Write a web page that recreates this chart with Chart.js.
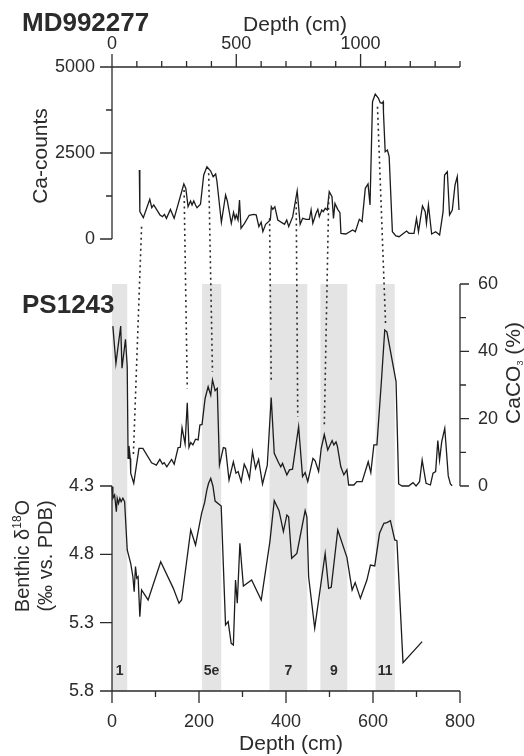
<!DOCTYPE html>
<html>
<head>
<meta charset="utf-8">
<script src="https://cdn.jsdelivr.net/npm/chart.js@4.4.1/dist/chart.umd.min.js"></script>
<style>
  html, body { margin: 0; padding: 0; background: #fff; }
  #wrap { position: relative; width: 524px; height: 756px; }
</style>
</head>
<body>
<div id="wrap"><canvas id="chart" width="524" height="756"></canvas></div>
<script>
/////////////////////
//    Data         //
/////////////////////
// MD992277 Ca-counts vs depth (cm)
const mdDepth = [110, 112, 126, 152, 160, 168, 193, 203, 211, 219, 235, 250, 289, 297, 306, 316, 322, 329, 336, 342,
  356, 369, 382, 397, 407, 417, 422, 440, 457, 464, 480, 489, 495, 500, 507, 513, 519, 533, 552, 570,
  580, 591, 600, 607, 618, 637, 641, 647, 655, 667, 694, 703, 711, 727, 745, 757, 767, 781, 794, 801,
  808, 821, 828, 834, 844, 850, 858, 866, 874, 885, 891, 897, 908, 917, 921, 941, 968, 979, 995, 1006,
  1019, 1030, 1038, 1048, 1059, 1072, 1079, 1086, 1091, 1092, 1099, 1108, 1115, 1128, 1142, 1155, 1185, 1195, 1215, 1225,
  1233, 1249, 1260, 1265, 1273, 1286, 1302, 1318, 1332, 1338, 1349, 1358, 1369, 1380, 1389, 1396];
const mdCa = [2006, 794, 620, 1153, 910, 990, 700, 650, 716, 600, 860, 600, 1600, 1470, 940, 1105, 990, 1105, 990, 910,
  1010, 1860, 2100, 1977, 1810, 1890, 1686, 485, 1280, 1105, 456, 776, 581, 700, 552, 1134, 310, 456, 690, 716,
  700, 360, 485, 213, 427, 552, 940, 863, 940, 552, 427, 552, 360, 650, 1395, 427, 600, 572, 572, 843,
  456, 746, 863, 650, 843, 795, 892, 843, 1376, 1231, 600, 1036, 863, 766, 165, 145, 262, 213, 572, 504,
  1473, 1600, 990, 3992, 4215, 4090, 3963, 3944, 3992, 3701, 2538, 2587, 2393, 213, 87, 67, 233, 165, 165, 601,
  213, 960, 795, 456, 990, 145, 213, 116, 795, 1860, 1957, 700, 843, 1570, 1811, 843];

// PS1243 CaCO3 (%) vs depth (cm)
const psDepth = [2, 9, 20, 23, 31, 35, 37, 39, 42, 43, 50, 62, 71, 91, 102, 110, 116, 120, 126, 137,
  143, 152, 157, 161, 168, 173, 177, 181, 186, 192, 198, 202, 207, 214, 221, 227, 231, 237, 242, 247,
  256, 261, 269, 279, 285, 290, 297, 304, 310, 316, 323, 330, 337, 346, 357, 366, 373, 383, 388, 392,
  402, 408, 415, 429, 438, 444, 450, 462, 467, 475, 481, 488, 496, 506, 510, 515, 518, 526, 533, 540,
  544, 556, 563, 575, 589, 595, 602, 609, 619, 627, 632, 653, 659, 667, 682, 692, 699, 707, 713, 722,
  732, 738, 744, 749, 753, 758, 765, 773, 778, 782];
const psCaCO3 = [47.5, 36.4, 47.5, 35, 43.6, 35.4, 8.2, 11.9, 8.2, 3.8, 0.8, 11.2, 11.2, 6.9, 6.2, 7.9, 6.5, 6.9, 5.7, 7.9,
  6.5, 11.4, 11.5, 17.3, 12.5, 24.7, 11.5, 12.9, 12.2, 13.9, 13.7, 18.1, 18.3, 26, 29.5, 27, 31.5, 28.3, 29, 6.2,
  11.4, 11.2, 1.8, 7.2, 3.8, 4.3, 1.3, 6.5, 4.8, 2.2, 10.2, 5.2, 7.9, 0.6, 6.2, 26.3, 9.7, 6.9, 5.7, 6.7,
  3.3, 4.8, 5, 17.6, 2.8, 4, 1.3, 8.2, 7.5, 4.3, 11.2, 15.3, 10.7, 13.5, 12.2, 13.1, 11.9, 5.7, 3.3, 4.8,
  0.3, 0.3, 1.3, 1.3, 7.2, 4, 12.2, 12.2, 30.5, 46.3, 45.8, 31, 0.6, 0, 0, 1, 0, 1.3, 7.7, 0.8,
  0.3, 3.8, 4.3, 13.5, 7.7, 13.2, 17.1, 3, 0.6, 0.1];

// PS1243 benthic d18O (permil vs. PDB) vs depth (cm)
const d18ODepth = [0, 2, 6, 10, 12, 15, 18, 21, 25, 29, 35, 43, 48, 51, 54, 57, 60, 64, 68, 83,
  112, 141, 154, 160, 181, 192, 206, 213, 218, 222, 227, 232, 237, 251, 261, 267, 274, 279, 284, 288,
  294, 302, 321, 343, 363, 373, 384, 394, 402, 406, 413, 425, 444, 448, 452, 466, 490, 498, 504, 519,
  540, 552, 559, 571, 586, 594, 604, 615, 625, 632, 640, 650, 655, 669, 713];
const d18O = [4.305, 4.39, 4.366, 4.488, 4.39, 4.427, 4.39, 4.415, 4.39, 4.415, 4.768, 4.866, 4.964, 5.073, 4.89, 4.975, 4.964, 5.256, 5.061, 5.134,
  4.854, 5.049, 5.158, 5.134, 4.622, 4.732, 4.5, 4.42, 4.33, 4.28, 4.245, 4.30, 4.41, 4.446, 5.317, 5.293, 5.451, 5.463, 4.988, 5.158,
  4.719, 5.032, 4.988, 5.134, 4.707, 4.407, 4.48, 4.634, 4.512, 4.525, 4.829, 4.793, 4.48, 4.525, 4.964, 5.341, 4.793, 5.049, 5.041, 4.622,
  4.822, 5.061, 5.007, 5.122, 4.988, 4.878, 4.885, 4.646, 4.573, 4.568, 4.554, 4.695, 4.7, 5.593, 5.439];

// Tie points (dotted lines) MD992277 -> PS1243
const tieMdDepth = [119, 290, 389, 634, 741, 872, 1068];
const tieMdCa = [358, 1424, 1910, 602, 1084, 1230, 3846];
const tiePsDepth = [49, 173, 231, 366, 427, 488, 629];
const tiePsCaCO3 = [8.7, 29.0, 33.9, 30.5, 20.6, 17.8, 47.8];

// Interglacial (MIS) bands
const bandStart = [0, 207, 362, 479, 606];
const bandEnd = [35, 251, 449, 541, 650];
const bandLabels = ['1', '5e', '7', '9', '11'];

// Tick labels
const mdDepthTicks = [0, 500, 1000];
const caTicks = [0, 2500, 5000];
const caco3Ticks = [0, 20, 40, 60];
const d18OTicks = [4.3, 4.8, 5.3, 5.8];
const psDepthTicks = [0, 200, 400, 600, 800];


/////////////////////
//    Layout       //
/////////////////////
const FONT = "'Liberation Sans', Arial, Helvetica, sans-serif";
const INK = '#2b2b2b';
const AREA = { left: 112, right: 460, top: 67, bottom: 691 };   // chart area in px
const SPLIT = 486;    // where the left Ca axis box ends and the d18O box starts
const W = 524, H = 756;

// find the scale range that puts vTop at pxTop and vBot at pxBot
// inside a box running from boxTop to boxBottom
function extent(vTop, vBot, pxTop, pxBot, boxTop, boxBottom) {
  const perPx = (vBot - vTop) / (pxBot - pxTop);
  return [vTop - perPx * (pxTop - boxTop), vBot + perPx * (boxBottom - pxBot)];
}
const caRange = extent(5000, 0, 67, 239, AREA.top, SPLIT);
const caco3Range = extent(60, 0, 284, 486, AREA.top, AREA.bottom);

const fixedTicks = (values) => (scale) => {
  scale.ticks = values.map(v => ({ value: v }));
};
const tickFont = { family: FONT, size: 18 };


////////////////////////////
//    Drawing helpers     //
////////////////////////////
function richText(ctx, parts, x, y, angle) {
  // parts: [text, sizePx, baselineShift]
  ctx.save();
  ctx.translate(x, y);
  ctx.rotate(angle);
  let total = 0;
  for (const [t, size] of parts) {
    ctx.font = `${size}px ${FONT}`;
    total += ctx.measureText(t).width;
  }
  let cx = -total / 2;
  ctx.textAlign = 'left';
  ctx.textBaseline = 'alphabetic';
  for (const [t, size, shift] of parts) {
    ctx.font = `${size}px ${FONT}`;
    ctx.fillText(t, cx, shift);
    cx += ctx.measureText(t).width;
  }
  ctx.restore();
}

const decorations = {
  id: 'decorations',
  beforeDatasetsDraw(chart) {
    const { ctx, scales: { xBot, yC, yO } } = chart;
    ctx.save();
    // grey interglacial bands
    ctx.fillStyle = '#e4e4e4';
    const top = yC.getPixelForValue(60);
    const bottom = yO.getPixelForValue(5.8);
    for (let i = 0; i < bandStart.length; i++) {
      const x0 = xBot.getPixelForValue(bandStart[i]);
      const x1 = xBot.getPixelForValue(bandEnd[i]);
      ctx.fillRect(x0, top, x1 - x0, bottom - top);
    }
    // band labels
    ctx.fillStyle = INK;
    ctx.font = `bold 14px ${FONT}`;
    ctx.textAlign = 'center';
    ctx.textBaseline = 'middle';
    for (let i = 0; i < bandStart.length; i++) {
      const x = xBot.getPixelForValue((bandStart[i] + bandEnd[i]) / 2);
      ctx.fillText(bandLabels[i], x, yO.getPixelForValue(5.655));
    }
    ctx.restore();
  },
  afterDatasetsDraw(chart) {
    const { ctx, scales: { xTop, xBot, yCa, yC, yO } } = chart;
    ctx.save();

    // dotted tie lines
    ctx.strokeStyle = INK;
    ctx.lineWidth = 1.6;
    ctx.setLineDash([2, 3.5]);
    ctx.beginPath();
    for (let i = 0; i < tieMdDepth.length; i++) {
      ctx.moveTo(xTop.getPixelForValue(tieMdDepth[i]), yCa.getPixelForValue(tieMdCa[i]));
      ctx.lineTo(xBot.getPixelForValue(tiePsDepth[i]), yC.getPixelForValue(tiePsCaCO3[i]));
    }
    ctx.stroke();
    ctx.setLineDash([]);

    // axis lines and tick marks
    ctx.lineWidth = 1.3;
    ctx.beginPath();
    // MD992277 depth axis (top, ticks outward = up)
    const yTopAxis = yCa.getPixelForValue(5000);
    ctx.moveTo(xTop.getPixelForValue(0), yTopAxis);
    ctx.lineTo(xTop.getPixelForValue(1400), yTopAxis);
    for (let d = 0; d <= 1400; d += 100) {
      const x = xTop.getPixelForValue(d);
      ctx.moveTo(x, yTopAxis);
      ctx.lineTo(x, yTopAxis - (mdDepthTicks.includes(d) ? 13 : 6));
    }
    // Ca-counts axis (left)
    const xCa = xTop.getPixelForValue(0);
    ctx.moveTo(xCa, yCa.getPixelForValue(0));
    ctx.lineTo(xCa, yCa.getPixelForValue(5000));
    for (let v = 0; v <= 5000; v += 1250) {
      const y = yCa.getPixelForValue(v);
      ctx.moveTo(xCa, y);
      ctx.lineTo(xCa - (caTicks.includes(v) ? 12 : 6), y);
    }
    // CaCO3 axis (right)
    const xC = AREA.right;
    ctx.moveTo(xC, yC.getPixelForValue(0));
    ctx.lineTo(xC, yC.getPixelForValue(60));
    for (let v = 0; v <= 60; v += 10) {
      const y = yC.getPixelForValue(v);
      ctx.moveTo(xC, y);
      ctx.lineTo(xC + (caco3Ticks.includes(v) ? 9 : 6), y);
    }
    // d18O axis (left)
    const xO = xBot.getPixelForValue(0);
    ctx.moveTo(xO, yO.getPixelForValue(4.3));
    ctx.lineTo(xO, yO.getPixelForValue(5.8));
    for (const v of d18OTicks) {
      const y = yO.getPixelForValue(v);
      ctx.moveTo(xO, y);
      ctx.lineTo(xO - 12, y);
    }
    // PS1243 depth axis (bottom)
    const yBotAxis = yO.getPixelForValue(5.8);
    ctx.moveTo(xBot.getPixelForValue(0), yBotAxis);
    ctx.lineTo(xBot.getPixelForValue(800), yBotAxis);
    for (let d = 0; d <= 800; d += 100) {
      const x = xBot.getPixelForValue(d);
      ctx.moveTo(x, yBotAxis);
      ctx.lineTo(x, yBotAxis + (psDepthTicks.includes(d) ? 12 : 6));
    }
    ctx.stroke();

    // titles
    ctx.fillStyle = INK;
    ctx.font = `bold 26px ${FONT}`;
    ctx.textAlign = 'left';
    ctx.textBaseline = 'alphabetic';
    ctx.fillText('MD992277', 22, 31);
    ctx.fillText('PS1243', 22, 313);

    richText(ctx, [['Depth (cm)', 21, 0]], 295, 31, 0);
    richText(ctx, [['Depth (cm)', 21, 0]], 291, 750, 0);
    richText(ctx, [['Ca-counts', 21, 0]], 47, 156, -Math.PI / 2);
    richText(ctx, [['Benthic δ', 20, 0], ['18', 12, -8], ['O', 20, 0]], 29, 556, -Math.PI / 2);
    richText(ctx, [['(‰ vs. PDB)', 20, 0]], 52, 556, -Math.PI / 2);
    richText(ctx, [['CaCO', 21, 0], ['3', 9, 3], [' (%)', 21, 0]], 520, 373, -Math.PI / 2);

    ctx.restore();
  }
};


///////////////////////
//    Main Script    //
///////////////////////
const lineStyle = {
  borderColor: '#1c1c1c',
  borderWidth: 1.3,
  pointRadius: 0,
  tension: 0,
  fill: false,
  clip: false     // curves may run a little past their own axis range
};

const data = {
  datasets: [
    {
      ...lineStyle,
      label: 'MD992277 Ca-counts',
      data: mdDepth.map((d, i) => ({ x: d, y: mdCa[i] })),
      xAxisID: 'xTop',
      yAxisID: 'yCa'
    },
    {
      ...lineStyle,
      label: 'PS1243 CaCO3',
      data: psDepth.map((d, i) => ({ x: d, y: psCaCO3[i] })),
      xAxisID: 'xBot',
      yAxisID: 'yC'
    },
    {
      ...lineStyle,
      label: 'PS1243 benthic d18O',
      data: d18ODepth.map((d, i) => ({ x: d, y: d18O[i] })),
      xAxisID: 'xBot',
      yAxisID: 'yO'
    }
  ]
};

const hidden = { grid: { display: false, drawTicks: false }, border: { display: false } };

const config = {
  type: 'line',
  data,
  options: {
    responsive: false,
    animation: false,
    events: [],
    layout: { padding: 0 },
    plugins: { legend: { display: false }, tooltip: { enabled: false } },
    scales: {
      xTop: {
        ...hidden,
        type: 'linear',
        position: 'top',
        min: 0,
        max: 1400,
        afterBuildTicks: fixedTicks(mdDepthTicks),
        afterFit: (s) => { s.height = AREA.top; },
        ticks: { font: tickFont, color: INK, padding: 12, maxRotation: 0, autoSkip: false, callback: (v) => String(v) }
      },
      xBot: {
        ...hidden,
        type: 'linear',
        position: 'bottom',
        min: 0,
        max: 800,
        afterBuildTicks: fixedTicks(psDepthTicks),
        afterFit: (s) => { s.height = H - AREA.bottom; },
        ticks: { font: tickFont, color: INK, padding: 20, maxRotation: 0, autoSkip: false, callback: (v) => String(v) }
      },
      // the two left axes share one column: Ca-counts on top, d18O below
      yCa: {
        ...hidden,
        type: 'linear',
        position: 'left',
        stack: 'left',
        stackWeight: SPLIT - AREA.top,
        weight: 1,
        min: caRange[1],
        max: caRange[0],
        afterBuildTicks: fixedTicks(caTicks),
        afterFit: (s) => { s.width = AREA.left; },
        ticks: { font: tickFont, color: INK, padding: 17, autoSkip: false, callback: (v) => String(v) }
      },
      yO: {
        ...hidden,
        type: 'linear',
        position: 'left',
        stack: 'left',
        stackWeight: AREA.bottom - SPLIT,
        weight: 0,
        reverse: true,
        min: 4.3,
        max: 5.8,
        afterBuildTicks: fixedTicks(d18OTicks),
        afterFit: (s) => { s.width = AREA.left; },
        ticks: { font: tickFont, color: INK, padding: 18, autoSkip: false, callback: (v) => v.toFixed(1) }
      },
      yC: {
        ...hidden,
        type: 'linear',
        position: 'right',
        min: caco3Range[1],
        max: caco3Range[0],
        afterBuildTicks: fixedTicks(caco3Ticks),
        afterFit: (s) => { s.width = W - AREA.right; },
        ticks: { font: tickFont, color: INK, padding: 18, autoSkip: false, callback: (v) => String(v) }
      }
    }
  },
  plugins: [decorations]
};

const chart = new Chart(document.getElementById('chart'), config);
</script>
</body>
</html>
